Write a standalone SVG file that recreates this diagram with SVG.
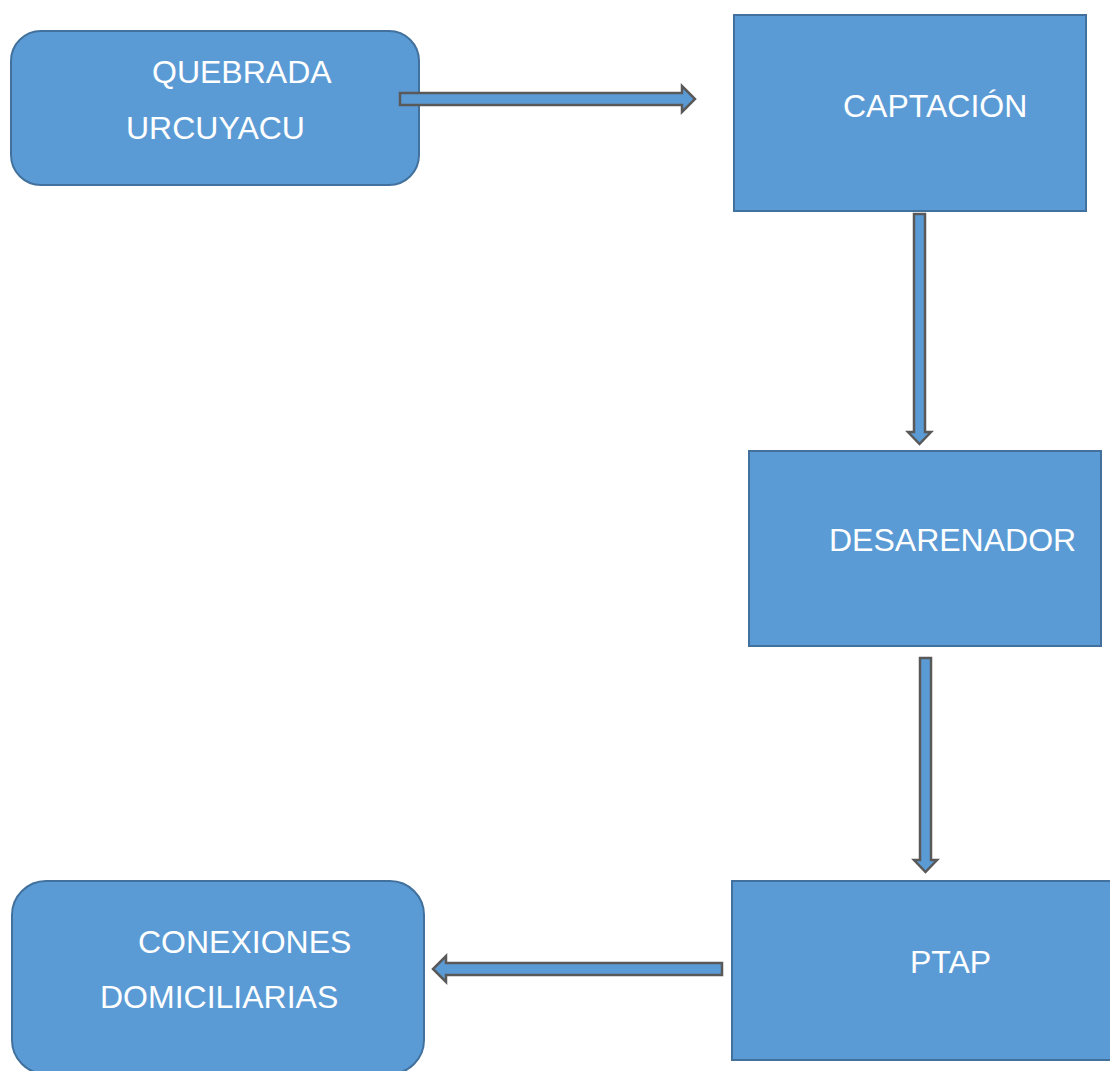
<svg xmlns="http://www.w3.org/2000/svg" width="1110" height="1071" viewBox="0 0 1110 1071">
<style>
.node{fill:#5B9BD5;stroke:#41719C;stroke-width:2}
.lbl{font-family:"Liberation Sans",Arial,sans-serif;font-size:32px;fill:#FFFFFF}
.arr{fill:#5B9BD5;stroke:#595959;stroke-width:2.5;stroke-linejoin:miter}
</style>
<rect width="1110" height="1071" fill="#FFFFFF"/>
<g id="quebrada">
<rect class="node" x="11" y="31" width="408" height="154" rx="30" ry="30"/>
<text class="lbl" x="152" y="83">QUEBRADA</text>
<text class="lbl" x="126" y="139">URCUYACU</text>
</g>
<g id="captacion">
<rect class="node" x="734" y="15" width="352" height="196"/>
<text class="lbl" x="843" y="117">CAPTACIÓN</text>
</g>
<g id="desarenador">
<rect class="node" x="749" y="451" width="352" height="195"/>
<text class="lbl" x="829" y="551">DESARENADOR</text>
</g>
<g id="ptap">
<rect class="node" x="732" y="881" width="390" height="179"/>
<text class="lbl" x="910" y="973">PTAP</text>
</g>
<g id="conexiones">
<rect class="node" x="12" y="881" width="412" height="193" rx="34" ry="34"/>
<text class="lbl" x="138" y="953">CONEXIONES</text>
<text class="lbl" x="100" y="1008">DOMICILIARIAS</text>
</g>
<g id="connectors">
<polygon class="arr" points="400,93 682,93 682,86 695,99 682,112 682,105 400,105"/>
<polygon class="arr" points="914,214 925,214 925,432 931,432 919.5,444 908,432 914,432"/>
<polygon class="arr" points="920,658 931,658 931,860 937,860 925.5,872 914,860 920,860"/>
<polygon class="arr" points="722,963 446,963 446,956 433,969 446,982 446,975 722,975"/>
</g>
</svg>
